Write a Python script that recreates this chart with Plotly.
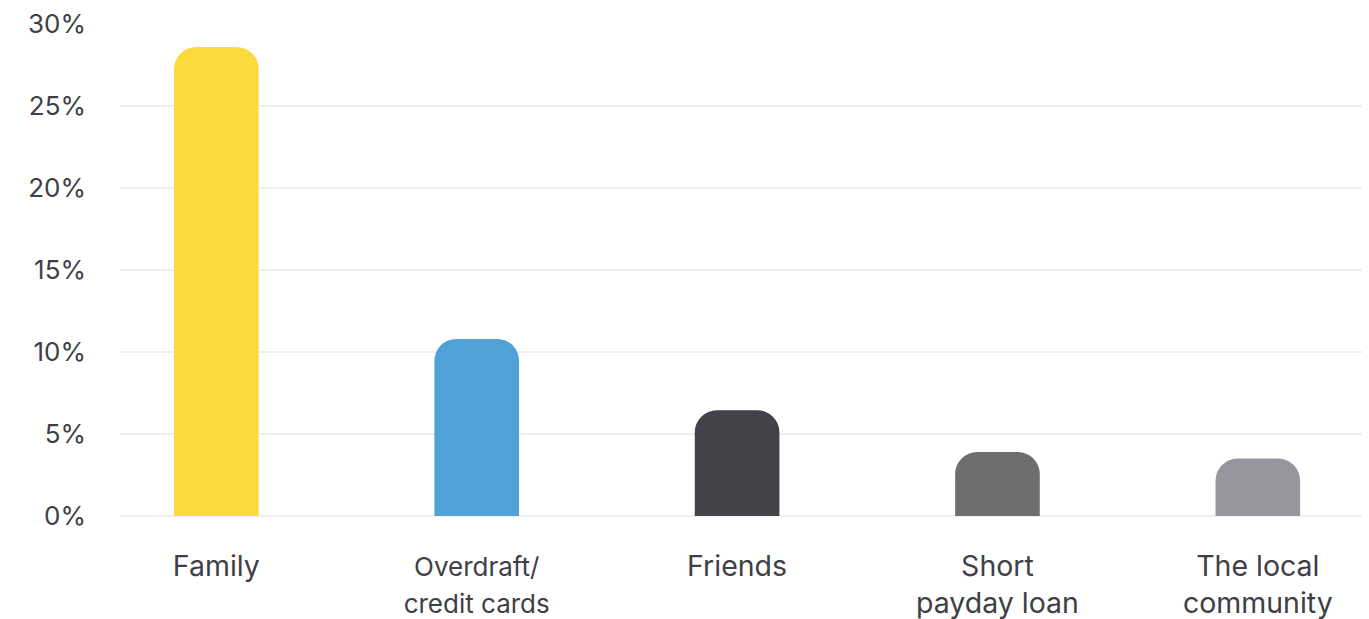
import plotly.graph_objects as go

categories = ["Family",
              "<span style='font-size:26px'>Overdraft/</span><br><span style='font-size:26px'>credit cards</span>",
              "Friends", "Short<br>payday loan", "The local<br>community"]
values = [28.6, 10.8, 6.45, 3.9, 3.5]
colors = ["#FBDA3E", "#4FA1D8", "#424348", "#6E6E6E", "#96969E"]
tick_vals = [0, 5, 10, 15, 20, 25, 30]
tick_text = ["0%", "5%", "10%", "15%", "20%", "25%", "30%"]

fig = go.Figure(go.Bar(
    x=list(range(len(categories))),
    y=values,
    marker=dict(color=colors, cornerradius=22, line=dict(width=0)),
    width=0.325,
    hoverinfo="skip",
))

fig.update_layout(
    width=1369, height=619,
    margin=dict(l=120, r=7, t=24, b=103),
    paper_bgcolor="white", plot_bgcolor="white",
    font=dict(family="Inter, Roboto, sans-serif", size=26, color="#3F4046"),
    showlegend=False,
    xaxis=dict(
        tickmode="array",
        tickvals=list(range(len(categories))),
        ticktext=categories,
        range=[-0.37, 4.4],
        showgrid=False, zeroline=False, showline=False,
        ticks="", ticklabelstandoff=30,
        tickfont=dict(size=28.5),
        automargin=False,
    ),
    yaxis=dict(
        range=[0, 30],
        tickvals=tick_vals, ticktext=tick_text,
        showgrid=True, gridcolor="#EFEFEF", gridwidth=2,
        zeroline=True, zerolinecolor="#EFEFEF", zerolinewidth=2,
        showline=False, ticks="", ticklabelstandoff=33,
        tickfont=dict(size=26),
        automargin=False,
    ),
)

fig.write_html("out.html")
